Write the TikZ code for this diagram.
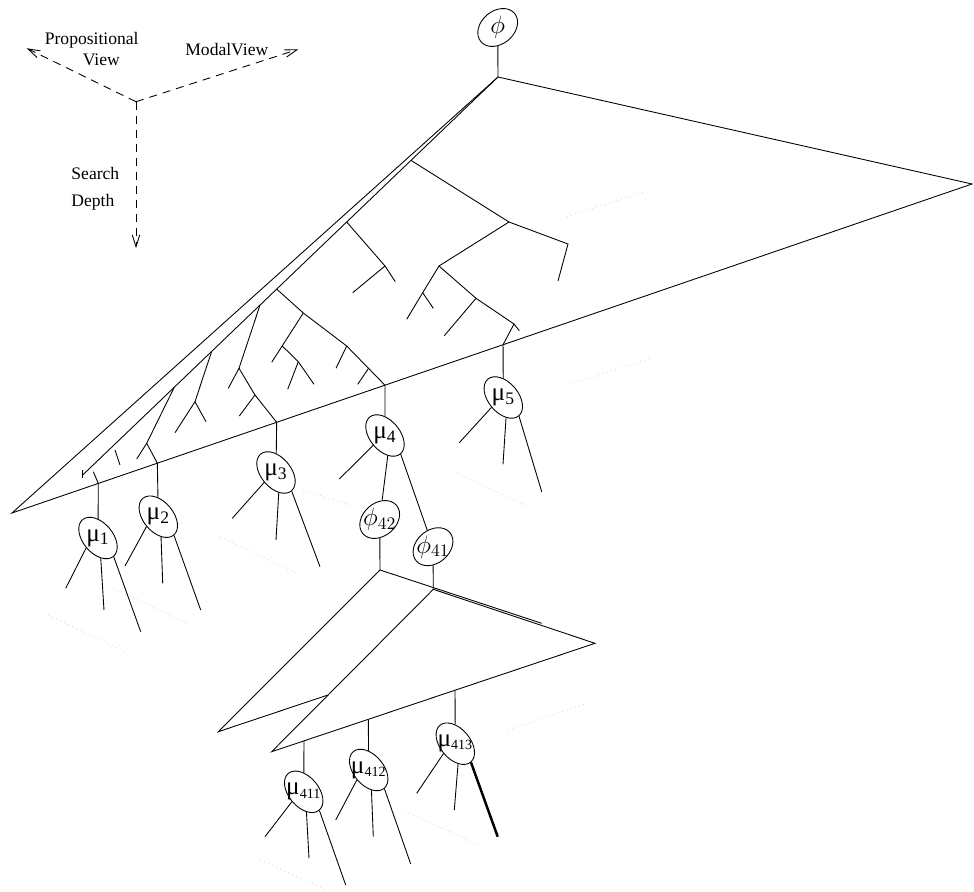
\documentclass[tikz,border=0pt]{standalone}
\usepackage{fontspec}
\setmainfont{Liberation Serif}
\usepackage{tikz}
\usetikzlibrary{arrows.meta, shapes.geometric, calc}

\tikzset{
  mu/.style={ellipse, draw, rotate=-50, minimum width=0.96cm, minimum height=0.6cm, inner sep=0pt},
  phinode/.style={ellipse, draw, rotate=40, minimum width=0.88cm, minimum height=0.66cm, inner sep=0pt},
  tag/.style={inner sep=0pt, font=\Large},
  deeptag/.style={inner sep=0pt, font=\large},
  word/.style={inner sep=0pt},
  axis/.style={dash pattern=on 1.6mm off 1.2mm, -{Straight Barb[length=2.4mm,width=1.5mm]}},
  ghost/.style={gray!30, dotted},
  heavy/.style={line width=1.4pt}
}

\begin{document}
\begin{tikzpicture}[x=0.02cm, y=-0.02cm, line width=0.5pt]
    \useasboundingbox (0,0) rectangle (974,892);

    % axes
    \coordinate (origin) at (136,101.7);
    \coordinate (propend) at (26.7,48.3);
    \coordinate (modalend) at (298.3,49.3);
    \coordinate (depthend) at (136,248.3);
    \draw[axis] (origin) -- (propend);
    \draw[axis] (origin) -- (modalend);
    \draw[axis] (origin) -- (depthend);
    \node[word, anchor=base] (prop) at (91.7,44.3) {Propositional};
    \node[word, anchor=base] (view) at (101.3,65.7) {View};
    \node[word, anchor=base] (modal) at (226.8,55.7) {ModalView};
    \node[word, anchor=base west] (search) at (71,179.3) {Search};
    \node[word, anchor=base west] (depth) at (71,206.6) {Depth};

    % faint planes
    \draw[ghost] (566.7,216.7) -- (645,191.7);
    \draw[ghost] (573.3,383.3) -- (650,358.3);
    \draw[ghost] (453.3,471.7) -- (528.3,506.7);
    \draw[ghost] (48.3,615) -- (125,651.7);
    \draw[ghost] (113.3,588.3) -- (186.7,623.3);
    \draw[ghost] (220,536.7) -- (296.7,573.3);
    \draw[ghost] (303.3,490) -- (350,505);
    \draw[ghost] (260,860) -- (326.7,890);
    \draw[ghost] (405,811.7) -- (480,845);
    \draw[ghost] (508.3,730) -- (586.7,703.3);

    % root
    \node[phinode] (phi) at (497.7,27.5) {};
    \node[tag] (phitxt) at (phi) {$\phi$};

    % big search triangle
    \coordinate (top) at (498,77);
    \coordinate (tipR) at (972,184);
    \coordinate (tipL) at (12,513);
    \coordinate (inner) at (82.7,475);
    \draw (phi) -- (top);
    \draw (top) -- (tipR) -- (tipL) -- cycle;
    \draw (top) -- (inner);
    \draw (82.7,470) -- (82.7,477.5);

    % branch starts and leaves
    \coordinate (sA) at ($(top)!0.2095!(inner)$);
    \coordinate (sB) at ($(top)!0.3643!(inner)$);
    \coordinate (sC) at ($(top)!0.5329!(inner)$);
    \coordinate (sD) at ($(top)!0.5731!(inner)$);
    \coordinate (sE) at ($(top)!0.6894!(inner)$);
    \coordinate (sF) at ($(top)!0.7794!(inner)$);
    \coordinate (j1) at ($(tipR)!0.9101!(tipL)$);
    \coordinate (j2) at ($(tipR)!0.8486!(tipL)$);
    \coordinate (j3) at ($(tipR)!0.7243!(tipL)$);
    \coordinate (j4) at ($(tipR)!0.6115!(tipL)$);
    \coordinate (j5) at ($(tipR)!0.4885!(tipL)$);

    \draw (sA) -- (509,222) -- (568,244) -- (558,281);
    \draw (509,222) -- (439,266) -- (422.7,292.7) -- (406.7,319.3);
    \draw (422.7,292.7) -- (433.3,308.3);
    \draw (439,266) -- (476,298.3) -- (514,324) -- (j5);
    \draw (476,298.3) -- (444.3,335.7);
    \draw (514,324) -- (519.3,330.7);

    \draw (sB) -- (385,266) -- (352.7,292.7);
    \draw (385,266) -- (395.3,281.7);

    \draw (sC) -- (303.3,313) -- (346.7,346) -- (j4);
    \draw (303.3,313) -- (271.7,362.3);
    \draw (282.3,346) -- (298.3,361.7) -- (314,384.3);
    \draw (298.3,361.7) -- (287.7,389.3);
    \draw (346.7,346) -- (336,368.3);
    \draw (368.3,368.7) -- (357.7,384.3);

    \draw (sD) -- (239,368.3) -- (255,395) -- (j3);
    \draw (239,368.3) -- (228.3,388.3);
    \draw (255,395) -- (239.3,416);

    \draw (sE) -- (195,401.7) -- (175,432.7);
    \draw (195,401.7) -- (206,421.7);

    \draw (sF) -- (146.7,443.3) -- (136.7,459);
    \draw (146.7,443.3) -- (j2);
    \draw (115,450) -- (120,465);
    \draw (93.3,471.7) -- (j1);

    % models
    \node[mu] (m1) at (98,538) {};
    \node[mu] (m2) at (158.3,516.7) {};
    \node[mu] (m3) at (276,472.5) {};
    \node[mu] (m4) at (385,435.5) {};
    \node[mu] (m5) at (503.3,397.5) {};
    \node[tag] (t1) at (m1) {μ\textsubscript{1}};
    \node[tag] (t2) at (m2) {μ\textsubscript{2}};
    \node[tag] (t3) at (m3) {μ\textsubscript{3}};
    \node[tag] (t4) at (m4) {μ\textsubscript{4}};
    \node[tag] (t5) at (m5) {μ\textsubscript{5}};
    \draw (j1) -- (m1);
    \draw (j2) -- (m2);
    \draw (j3) -- (m3);
    \draw (j4) -- (m4);
    \draw (j5) -- (m5);

    % sub formulas
    \node[phinode] (f42) at (379.7,519.5) {};
    \node[phinode] (f41) at (433,546.7) {};
    \node[tag] (t42) at (f42) {$\phi_{42}$};
    \node[tag] (t41) at (f41) {$\phi_{41}$};
    \draw (m4.south east) -- (f42);
    \draw (m4.east) -- (f41);

    % lower triangles
    \coordinate (P1) at (380,570);
    \coordinate (L1) at (218.3,731.7);
    \coordinate (R1) at (541.7,623.3);
    \coordinate (P2) at (433.3,589.3);
    \coordinate (L2) at (271.7,751.7);
    \coordinate (R2) at (595,643.3);
    \coordinate (X) at (intersection of L1--R1 and P2--L2);
    \draw (f42) -- (P1);
    \draw (f41) -- (P2);
    \draw (R1) -- (P1) -- (L1) -- (X);
    \draw (P2) -- (L2) -- (R2) -- cycle;
    \coordinate (j411) at ($(L2)!0.0999!(R2)$);
    \coordinate (j412) at ($(L2)!0.2988!(R2)$);
    \coordinate (j413) at ($(L2)!0.567!(R2)$);

    \node[mu] (m411) at (303.7,791.8) {};
    \node[mu] (m412) at (368.7,770) {};
    \node[mu] (m413) at (455.3,743.7) {};
    \node[deeptag] (t411) at (m411) {{\Large μ}\textsubscript{411}};
    \node[deeptag] (t412) at (m412) {{\Large μ}\textsubscript{412}};
    \node[deeptag] (t413) at (m413) {{\Large μ}\textsubscript{413}};
    \draw (j411) -- (m411);
    \draw (j412) -- (m412);
    \draw (j413) -- (m413);

    % leaves below the models
    \foreach \n/\x/\y in {a-m1/65.7/588.3, b-m1/104/610, c-m1/140.7/631.7,
                          a-m2/125/566, b-m2/162.7/583.3, c-m2/200.7/610,
                          a-m3/232.3/518.3, b-m3/276/540, c-m3/320/566.7,
                          a-m4/339.3/479,
                          a-m5/459.3/442.7, b-m5/503/464.3, c-m5/541.7/491.7,
                          a-m411/265/836.7, b-m411/309/858.3, c-m411/345.7/885,
                          a-m412/335.7/820, b-m412/373.3/836.7, c-m412/410.7/864,
                          a-m413/416.7/793.3, b-m413/454.3/810, c-m413/497.7/836.7}
        \coordinate (\n) at (\x,\y);
    \foreach \m in {m1,m2,m3,m5,m411,m412} {
        \draw (\m.south) -- (a-\m);
        \draw (\m.south east) -- (b-\m);
        \draw (\m.east) -- (c-\m);
    }
    \draw (m4.south) -- (a-m4);
    \draw (m413.south) -- (a-m413);
    \draw (m413.south east) -- (b-m413);
    \draw[heavy] (m413.east) -- (c-m413);
\end{tikzpicture}
\end{document}
